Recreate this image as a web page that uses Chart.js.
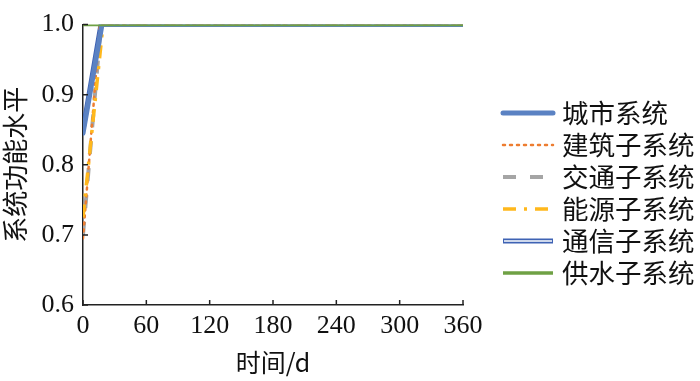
<!DOCTYPE html>
<html>
<head>
<meta charset="utf-8">
<script src="https://cdn.jsdelivr.net/npm/chart.js@4"></script>
<style>
  html, body { margin: 0; padding: 0; background: #fff; }
  #wrap { width: 700px; height: 381px; }
</style>
</head>
<body>
<div id="wrap"><canvas id="myChart" width="700" height="381"></canvas></div>
<script>
  // series names
  var seriesNames = ["城市系统", "建筑子系统", "交通子系统", "能源子系统", "通信子系统", "供水子系统"];
  // time (days) and functional level for each series
  var cityDays = [0, 18, 360];
  var cityVals = [0.845, 1.0, 1.0];
  var buildDays = [0, 16, 360];
  var buildVals = [0.695, 1.0, 1.0];
  var trafficDays = [0, 17, 360];
  var trafficVals = [0.70, 1.0, 1.0];
  var energyDays = [0, 19, 360];
  var energyVals = [0.725, 1.0, 1.0];
  var commDays = [0, 17, 360];
  var commVals = [0.85, 1.0, 1.0];
  var waterDays = [0, 360];
  var waterVals = [1.0, 1.0];
  var xTicks = [0, 60, 120, 180, 240, 300, 360];
  var yTicks = [0.6, 0.7, 0.8, 0.9, 1.0];

  function pts(xs, ys) {
    return xs.map(function (x, i) { return { x: x, y: ys[i] }; });
  }

  var styles = [
    { color: "#5B82C3", width: 5, dash: [], cap: "round" },
    { color: "#ED7D31", width: 2.5, dash: [2, 5], cap: "round" },
    { color: "#A5A5A5", width: 4, dash: [13, 14], cap: "butt" },
    { color: "#FFB81C", width: 3.5, dash: [13, 8, 3, 8], cap: "butt" },
    { color: "#3F63B4", width: 5, dash: [], cap: "butt", dbl: true },
    { color: "#6FA144", width: 3.5, dash: [], cap: "butt" }
  ];

  var raw = [
    pts(cityDays, cityVals), pts(buildDays, buildVals), pts(trafficDays, trafficVals),
    pts(energyDays, energyVals), pts(commDays, commVals), pts(waterDays, waterVals)
  ];
  var drawOrder = [2, 4, 5, 3, 6, 0];

  var datasets = [];
  raw.forEach(function (d, i) {
    var s = styles[i];
    datasets.push({
      label: seriesNames[i], data: d, borderColor: s.color, borderWidth: s.width,
      borderDash: s.dash, borderCapStyle: s.cap, pointRadius: 0, tension: 0,
      fill: false, order: drawOrder[i]
    });
    if (s.dbl) {
      datasets.push({
        label: "", data: d, borderColor: "#ffffff", borderWidth: 1.6,
        pointRadius: 0, tension: 0, fill: false, order: drawOrder[i] - 0.5
      });
    }
  });

  var serif = "Liberation Serif";
  var cjk = "Noto Sans CJK SC";

  var axisTicks = {
    id: "axisTicks",
    afterDraw: function (chart) {
      var c = chart.ctx, a = chart.chartArea;
      var xs = chart.scales.x, ys = chart.scales.y;
      c.save();
      c.strokeStyle = "#222";
      c.lineWidth = 1.5;
      c.beginPath();
      xTicks.forEach(function (t) {
        var px = xs.getPixelForValue(t);
        c.moveTo(px, a.bottom); c.lineTo(px, a.bottom - 5);
      });
      yTicks.forEach(function (t) {
        var py = ys.getPixelForValue(t);
        c.moveTo(a.left, py); c.lineTo(a.left + 5, py);
      });
      c.stroke();
      c.restore();
    }
  };

  var legendPlugin = {
    id: "sideLegend",
    afterDraw: function (chart) {
      var c = chart.ctx;
      var x0 = 503, x1 = 553, tx = 562, y0 = 113, step = 32;
      c.save();
      seriesNames.forEach(function (name, i) {
        var s = styles[i];
        var y = y0 + i * step;
        c.beginPath();
        c.strokeStyle = s.color;
        c.lineWidth = s.width;
        c.lineCap = s.cap;
        c.setLineDash(s.dash);
        c.moveTo(x0, y); c.lineTo(x1, y);
        c.stroke();
        if (s.dbl) {
          c.beginPath();
          c.strokeStyle = "#fff";
          c.lineWidth = 1.6;
          c.setLineDash([]);
          c.moveTo(x0 + 1, y); c.lineTo(x1 - 1, y);
          c.stroke();
        }
        c.setLineDash([]);
        c.fillStyle = "#111";
        c.font = "26.5px " + cjk;
        c.textBaseline = "middle";
        c.fillText(name, tx, y);
      });
      c.restore();
    }
  };

  document.addEventListener("DOMContentLoaded", function () {
    var ctx = document.getElementById("myChart").getContext("2d");
    new Chart(ctx, {
      type: "line",
      data: { datasets: datasets },
      plugins: [axisTicks, legendPlugin],
      options: {
        responsive: false,
        animation: false,
        layout: { padding: { top: 14, right: 237, left: 0, bottom: 0 } },
        plugins: { legend: { display: false }, tooltip: { enabled: false } },
        scales: {
          x: {
            type: "linear", min: 0, max: 360,
            afterBuildTicks: function (s) { s.ticks = xTicks.map(function (v) { return { value: v }; }); },
            afterFit: function (s) { s.height = 76; },
            grid: { display: false, drawTicks: false },
            border: { display: true, color: "#222", width: 1.5 },
            ticks: { color: "#111", padding: 6, maxRotation: 0, font: { family: serif, size: 26 } },
            title: { display: true, text: "时间/d", color: "#111", padding: { top: 2 }, font: { family: cjk, size: 25 } }
          },
          y: {
            min: 0.6, max: 1.0,
            afterBuildTicks: function (s) { s.ticks = yTicks.map(function (v) { return { value: v }; }); },
            afterFit: function (s) { s.width = 83; },
            grid: { display: false, drawTicks: false },
            border: { display: true, color: "#222", width: 1.5 },
            ticks: { color: "#111", padding: 9, font: { family: serif, size: 26 },
              callback: function (v) { return Number(v).toFixed(1); } },
            title: { display: true, text: "系统功能水平", color: "#111", padding: 0, font: { family: cjk, size: 26 } }
          }
        }
      }
    });
  });
</script>
</body>
</html>
